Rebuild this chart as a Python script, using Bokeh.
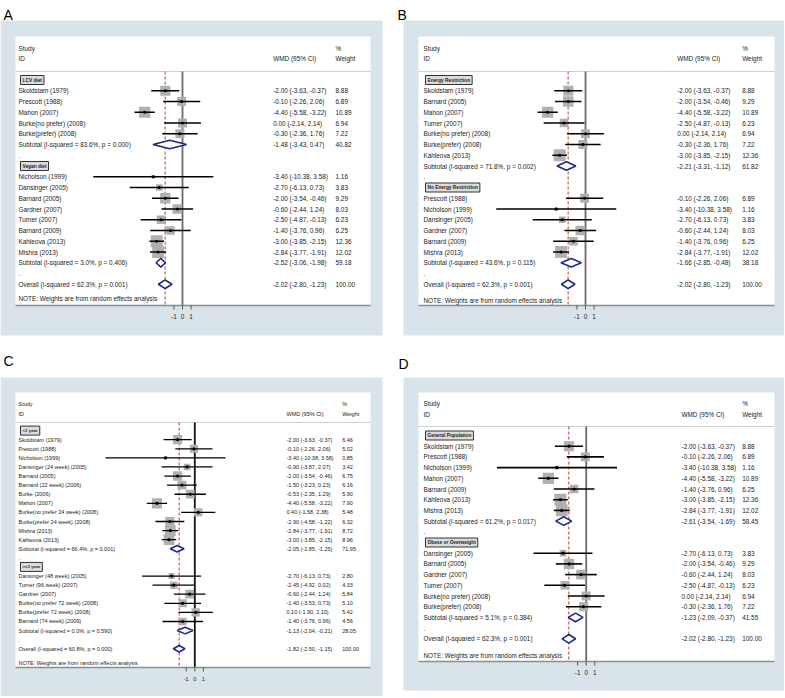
import math
from bokeh.plotting import figure
from bokeh.layouts import gridplot
from bokeh.models import Range1d
from bokeh.core.properties import value
from bokeh.embed import file_html
from bokeh.resources import INLINE

NAN = float("nan")

# ---------------- data ----------------
A_kind = ["g", "s", "s", "s", "s", "s", "d", ".", "g", "s", "s", "s", "s", "s", "s", "s", "s", "d", ".", "o"]
A_label = ["LCV diet", "Skoldstam (1979)", "Prescott (1988)", "Mahon (2007)", "Burke(no prefer) (2008)",
           "Burke(prefer) (2008)", "Subtotal  (I-squared = 83.6%, p = 0.000)", ".", "Vegan diet",
           "Nicholson (1999)", "Dansinger (2005)", "Barnard (2005)", "Gardner (2007)", "Turner (2007)",
           "Barnard (2009)", "Kahleova (2013)", "Mishra (2013)", "Subtotal  (I-squared = 3.0%, p = 0.406)",
           ".", "Overall  (I-squared = 62.3%, p = 0.001)"]
A_est = [NAN, -2.00, -0.10, -4.40, 0.00, -0.30, -1.48, NAN, NAN, -3.40, -2.70, -2.00, -0.60, -2.50, -1.40, -3.00, -2.84, -2.52, NAN, -2.02]
A_lo = [NAN, -3.63, -2.26, -5.58, -2.14, -2.36, -3.43, NAN, NAN, -10.38, -6.13, -3.54, -2.44, -4.87, -3.76, -3.85, -3.77, -3.06, NAN, -2.80]
A_hi = [NAN, -0.37, 2.06, -3.22, 2.14, 1.76, 0.47, NAN, NAN, 3.58, 0.73, -0.46, 1.24, -0.13, 0.96, -2.15, -1.91, -1.98, NAN, -1.23]
A_w = [NAN, 8.88, 6.89, 10.89, 6.94, 7.22, 40.82, NAN, NAN, 1.16, 3.83, 9.29, 8.03, 6.23, 6.25, 12.36, 12.02, 59.18, NAN, 100.00]

B_kind = ["g", "s", "s", "s", "s", "s", "s", "s", "d", ".", "g", "s", "s", "s", "s", "s", "s", "d", ".", "o"]
B_label = ["Energy Restriction", "Skoldstam (1979)", "Barnard (2005)", "Mahon (2007)", "Turner (2007)",
           "Burke(no prefer) (2008)", "Burke(prefer) (2008)", "Kahleova (2013)",
           "Subtotal  (I-squared = 71.8%, p = 0.002)", ".", "No Energy Restriction", "Prescott (1988)",
           "Nicholson (1999)", "Dansinger (2005)", "Gardner (2007)", "Barnard (2009)", "Mishra (2013)",
           "Subtotal  (I-squared = 43.6%, p = 0.115)", ".", "Overall  (I-squared = 62.3%, p = 0.001)"]
B_est = [NAN, -2.00, -2.00, -4.40, -2.50, 0.00, -0.30, -3.00, -2.21, NAN, NAN, -0.10, -3.40, -2.70, -0.60, -1.40, -2.84, -1.66, NAN, -2.02]
B_lo = [NAN, -3.63, -3.54, -5.58, -4.87, -2.14, -2.36, -3.85, -3.31, NAN, NAN, -2.26, -10.38, -6.13, -2.44, -3.76, -3.77, -2.85, NAN, -2.80]
B_hi = [NAN, -0.37, -0.46, -3.22, -0.13, 2.14, 1.76, -2.15, -1.12, NAN, NAN, 2.06, 3.58, 0.73, 1.24, 0.96, -1.91, -0.48, NAN, -1.23]
B_w = [NAN, 8.88, 9.29, 10.89, 6.23, 6.94, 7.22, 12.36, 61.82, NAN, NAN, 6.89, 1.16, 3.83, 8.03, 6.25, 12.02, 38.18, NAN, 100.00]

C_kind = ["g"] + ["s"] * 12 + ["d", ".", "g"] + ["s"] * 6 + ["d", ".", "o"]
C_label = ["<1 year", "Skoldstam (1979)", "Prescott (1988)", "Nicholson (1999)", "Dansinger (24 week) (2005)",
           "Barnard (2005)", "Barnard (22 week) (2006)", "Burke (2006)", "Mahon (2007)",
           "Burke(no prefer 24 week) (2008)", "Burke(prefer 24 week) (2008)", "Mishra (2013)", "Kahleova (2013)",
           "Subtotal  (I-squared = 66.4%, p = 0.001)", ".", ">=1 year", "Dansinger (48 week) (2005)",
           "Turner (96 week) (2007)", "Gardner (2007)", "Burke(no prefer 72 week) (2008)",
           "Burke(prefer 72 week) (2008)", "Barnard (74 week) (2009)",
           "Subtotal  (I-squared = 0.0%, p = 0.590)", ".", "Overall  (I-squared = 60.8%, p = 0.000)"]
C_est = [NAN, -2.00, -0.10, -3.40, -0.90, -2.00, -1.50, -0.53, -4.40, 0.40, -2.90, -2.84, -3.00, -2.05, NAN, NAN,
         -2.70, -2.45, -0.60, -1.40, 0.10, -1.40, -1.13, NAN, -1.82]
C_lo = [NAN, -3.63, -2.26, -10.38, -3.87, -3.54, -3.23, -2.35, -5.58, -1.58, -4.58, -3.77, -3.85, -2.85, NAN, NAN,
        -6.13, -4.92, -2.44, -3.53, -1.90, -3.76, -2.04, NAN, -2.50]
C_hi = [NAN, -0.37, 2.06, 3.58, 2.07, -0.46, 0.23, 1.29, -3.22, 2.38, -1.22, -1.91, -2.15, -1.25, NAN, NAN,
        0.73, 0.02, 1.24, 0.73, 2.10, 0.96, -0.21, NAN, -1.15]
C_w = [NAN, 6.46, 5.02, 0.85, 3.42, 6.75, 6.16, 5.90, 7.90, 5.48, 6.32, 8.72, 8.96, 71.95, NAN, NAN,
       2.80, 4.33, 5.84, 5.10, 5.42, 4.56, 28.05, NAN, 100.00]

D_kind = ["g", "s", "s", "s", "s", "s", "s", "s", "d", ".", "g", "s", "s", "s", "s", "s", "s", "d", ".", "o"]
D_label = ["General Population", "Skoldstam (1979)", "Prescott (1988)", "Nicholson (1999)", "Mahon (2007)",
           "Barnard (2009)", "Kahleova (2013)", "Mishra (2013)", "Subtotal  (I-squared = 61.2%, p = 0.017)", ".",
           "Obese or Overweight", "Dansinger (2005)", "Barnard (2005)", "Gardner (2007)", "Turner (2007)",
           "Burke(no prefer) (2008)", "Burke(prefer) (2008)", "Subtotal  (I-squared = 5.1%, p = 0.384)", ".",
           "Overall  (I-squared = 62.3%, p = 0.001)"]
D_est = [NAN, -2.00, -0.10, -3.40, -4.40, -1.40, -3.00, -2.84, -2.61, NAN, NAN, -2.70, -2.00, -0.60, -2.50, 0.00, -0.30, -1.23, NAN, -2.02]
D_lo = [NAN, -3.63, -2.26, -10.38, -5.58, -3.76, -3.85, -3.77, -3.54, NAN, NAN, -6.13, -3.54, -2.44, -4.87, -2.14, -2.36, -2.09, NAN, -2.80]
D_hi = [NAN, -0.37, 2.06, 3.58, -3.22, 0.96, -2.15, -1.91, -1.69, NAN, NAN, 0.73, -0.46, 1.24, -0.13, 2.14, 1.76, -0.37, NAN, -1.23]
D_w = [NAN, 8.88, 6.89, 1.16, 10.89, 6.25, 12.36, 12.02, 58.45, NAN, NAN, 3.83, 9.29, 8.03, 6.23, 6.94, 7.22, 41.55, NAN, 100.00]

TICKS = [-1, 0, 1]
TICK_LABELS = ["-1", "0", "1"]
HEAD_STUDY = "Study"
HEAD_ID = "ID"
HEAD_EFFECT = "WMD (95% CI)"
HEAD_PCT = "%"
HEAD_WEIGHT = "Weight"
NOTE = "NOTE: Weights are from random effects analysis"

# ---------------- layout (reference pixel space) ----------------
W, H = 392, 348
FONT = "Liberation Sans"
CFG = {
    "A": dict(off=(0, 0), letter=(3, 14), hatch=(0, 20, 382, 335), white=(15, 36, 370, 305),
              lab_x=18, val_x=272.7, wt_x=335, zero=182, scale=8.6, study_y=47.7, id_y=58, hl_y=71,
              row0=79.5, sp=10.75, note_y=298, axis_y=305, fs=6.4, gfs=4.8, half=4.3, sq=3.4,
              zcol="#6a6a6a", lw=1.6),
    "B": dict(off=(392, 0), letter=(397, 14), hatch=(403, 20, 785, 335), white=(418, 36, 774, 305),
              lab_x=423, val_x=676.7, wt_x=741.7, zero=585, scale=8.6, study_y=47.7, id_y=58, hl_y=71,
              row0=79.5, sp=10.75, note_y=300, axis_y=305, fs=6.4, gfs=4.8, half=4.3, sq=3.4,
              zcol="#6a6a6a", lw=1.6),
    "C": dict(off=(0, 348), letter=(3, 360), hatch=(0, 377, 382, 697), white=(15, 392, 370, 667),
              lab_x=18, val_x=286, wt_x=341.7, zero=194.3, scale=8.6, study_y=403, id_y=413, hl_y=422,
              row0=430.1, sp=9.09, note_y=662, axis_y=667, fs=5.5, gfs=4.4, half=3.3, sq=3.6,
              zcol="#111111", lw=1.3),
    "D": dict(off=(392, 348), letter=(398, 363), hatch=(403, 377, 785, 690), white=(418, 392, 774, 661),
              lab_x=423, val_x=681, wt_x=741.7, zero=585.7, scale=8.6, study_y=402.7, id_y=414.3, hl_y=426,
              row0=435, sp=10.7, note_y=655, axis_y=661, fs=6.4, gfs=4.8, half=4.3, sq=3.4,
              zcol="#6a6a6a", lw=1.6),
}

TXT = "#222222"
SQ_COL = "#b0b0b0"
NAVY = "#1b2a8a"
RED = "#c0392b"
BG = "#d8e4e9"


def fmt(v):
    return "%.2f" % v


def panel(name, kind, label, est, lo, hi, w):
    c = CFG[name]
    ox, oy = c["off"]
    z, sc = c["zero"], c["scale"]

    def X(px):
        return (px - z) / sc

    p = figure(width=W, height=H, x_range=Range1d(X(ox), X(ox + W)), y_range=Range1d(oy + H, oy),
               output_backend="svg", toolbar_location=None, min_border=0,
               x_axis_location=None, y_axis_location=None, outline_line_color=None,
               background_fill_color="white", border_fill_color="white")
    p.grid.visible = False

    hx0, hy0, hx1, hy1 = c["hatch"]
    p.quad(left=[X(hx0)], right=[X(hx1)], top=[hy0], bottom=[hy1], fill_color=BG, line_color=None,
           hatch_pattern="v_line", hatch_color="#e8f0f3", hatch_scale=4, hatch_weight=1)
    wx0, wy0, wx1, wy1 = c["white"]
    p.quad(left=[X(wx0)], right=[X(wx1)], top=[wy0], bottom=[wy1], fill_color="white", line_color=None)

    tf = value(FONT)
    fs = "%.1fpx" % c["fs"]

    # letter
    p.text(x=[X(c["letter"][0])], y=[c["letter"][1]], text=[name], text_font=tf, text_font_size="14px",
           text_baseline="middle", text_align="left", text_color="black")

    # header
    p.text(x=[X(c["lab_x"]), X(c["lab_x"]), X(c["val_x"]), X(c["wt_x"]), X(c["wt_x"])],
           y=[c["study_y"], c["id_y"], c["id_y"], c["study_y"], c["id_y"]],
           text=[HEAD_STUDY, HEAD_ID, HEAD_EFFECT, HEAD_PCT, HEAD_WEIGHT],
           text_font=tf, text_font_size=fs, text_baseline="middle", text_align="left", text_color=TXT)
    p.segment(x0=[X(wx0)], y0=[c["hl_y"]], x1=[X(wx1)], y1=[c["hl_y"]], line_color="#cfcfcf", line_width=1)

    ys = [c["row0"] + k * c["sp"] for k in range(len(kind))]
    overall = [e for e, k in zip(est, kind) if k == "o"][0]

    # reference lines
    p.segment(x0=[0], y0=[c["hl_y"]], x1=[0], y1=[c["axis_y"]], line_color=c["zcol"], line_width=1.8)
    p.segment(x0=[overall], y0=[c["hl_y"]], x1=[overall], y1=[c["axis_y"]], line_color=RED,
              line_width=1, line_dash="3 2")

    # studies
    si = [i for i, k in enumerate(kind) if k == "s"]
    p.scatter(x=[est[i] for i in si], y=[ys[i] for i in si], size=[c["sq"] * math.sqrt(w[i]) for i in si],
              marker="square", fill_color=SQ_COL, line_color=None)
    p.segment(x0=[lo[i] for i in si], y0=[ys[i] for i in si], x1=[hi[i] for i in si], y1=[ys[i] for i in si],
              line_color="black", line_width=c["lw"])
    p.scatter(x=[est[i] for i in si], y=[ys[i] for i in si], size=3.2, marker="circle",
              fill_color="black", line_color=None)

    # diamonds
    di = [i for i, k in enumerate(kind) if k in ("d", "o")]
    hh = c["half"]
    p.patches(xs=[[lo[i], est[i], hi[i], est[i]] for i in di],
              ys=[[ys[i], ys[i] - hh, ys[i], ys[i] + hh] for i in di],
              fill_color="white", line_color=NAVY, line_width=1.6)

    # labels
    li = [i for i, k in enumerate(kind) if k != "g"]
    p.text(x=[X(c["lab_x"])] * len(li), y=[ys[i] for i in li], text=[label[i] for i in li],
           text_font=tf, text_font_size=fs, text_baseline="middle", text_align="left", text_color=TXT)
    gi = [i for i, k in enumerate(kind) if k == "g"]
    p.text(x=[X(c["lab_x"] + 2)] * len(gi), y=[ys[i] for i in gi], text=[label[i] for i in gi],
           text_font=tf, text_font_size="%.1fpx" % c["gfs"], text_font_style="bold",
           text_baseline="middle", text_align="left", text_color=TXT,
           background_fill_color="#dcdcdc", border_line_color="#333333", border_line_width=1, padding=2)

    vi = [i for i, k in enumerate(kind) if k in ("s", "d", "o")]
    p.text(x=[X(c["val_x"])] * len(vi), y=[ys[i] for i in vi],
           text=["%s (%s, %s)" % (fmt(est[i]), fmt(lo[i]), fmt(hi[i])) for i in vi],
           text_font=tf, text_font_size=fs, text_baseline="middle", text_align="left", text_color=TXT)
    p.text(x=[X(c["wt_x"])] * len(vi), y=[ys[i] for i in vi], text=[fmt(w[i]) for i in vi],
           text_font=tf, text_font_size=fs, text_baseline="middle", text_align="left", text_color=TXT)

    # note
    p.text(x=[X(c["lab_x"])], y=[c["note_y"]], text=[NOTE], text_font=tf, text_font_size=fs,
           text_baseline="middle", text_align="left", text_color=TXT)

    # bottom axis
    ay = c["axis_y"]
    p.segment(x0=[X(wx0)], y0=[ay], x1=[X(wx1)], y1=[ay], line_color="#8c8c8c", line_width=1.5)
    p.segment(x0=TICKS, y0=[ay] * len(TICKS), x1=TICKS, y1=[ay + 4] * len(TICKS), line_color="#555555",
              line_width=1)
    p.text(x=TICKS, y=[ay + 11] * len(TICKS), text=TICK_LABELS, text_font=tf, text_font_size=fs,
           text_baseline="middle", text_align="center", text_color=TXT)
    return p


pA = panel("A", A_kind, A_label, A_est, A_lo, A_hi, A_w)
pB = panel("B", B_kind, B_label, B_est, B_lo, B_hi, B_w)
pC = panel("C", C_kind, C_label, C_est, C_lo, C_hi, C_w)
pD = panel("D", D_kind, D_label, D_est, D_lo, D_hi, D_w)

grid = gridplot([[pA, pB], [pC, pD]], toolbar_location=None)
open("out.html", "w").write(file_html(grid, INLINE))
